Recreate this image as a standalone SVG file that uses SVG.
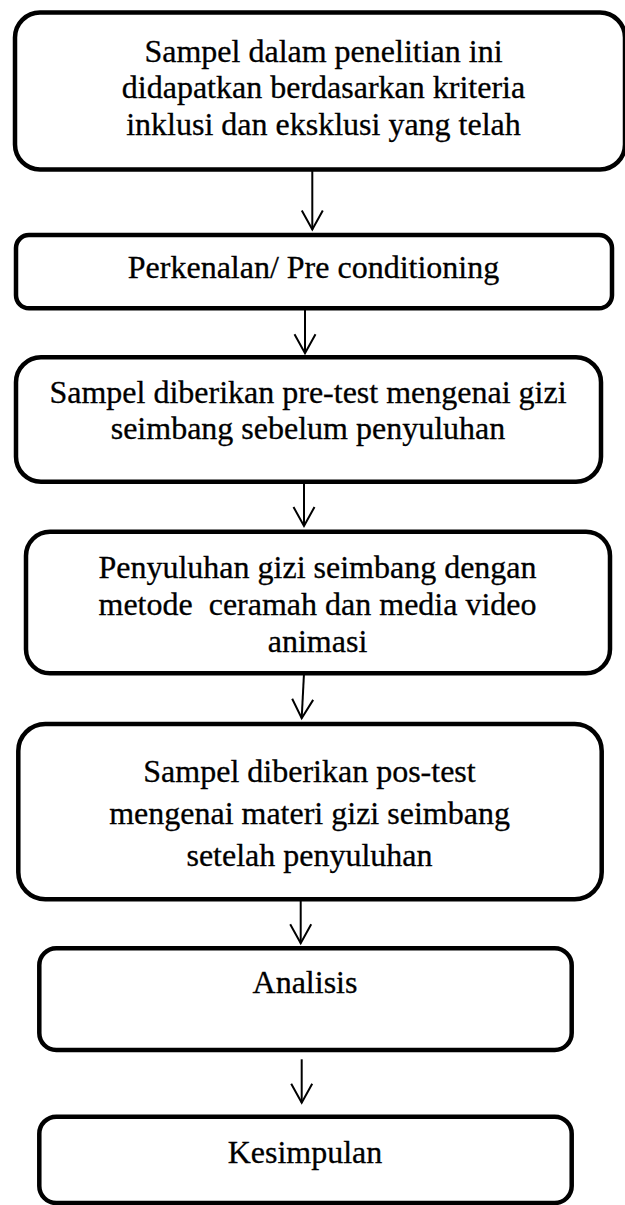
<svg xmlns="http://www.w3.org/2000/svg" width="625" height="1205" viewBox="0 0 625 1205">
<style>
.box{fill:#fff;stroke:#000;stroke-width:4.5}
.lbl{font-family:"Liberation Serif","Times New Roman",serif;font-size:32px;fill:#000;stroke:#000;stroke-width:0.3;text-anchor:middle}
.conn{stroke:#000;stroke-width:2;fill:none}
</style>
<defs>
<marker id="arr" markerUnits="userSpaceOnUse" markerWidth="40" markerHeight="40" refX="0" refY="0" orient="auto" overflow="visible">
<path d="M-19,-10.5 L0,0 L-19,10.5" fill="none" stroke="#000" stroke-width="2"/>
</marker>
</defs>
<rect width="625" height="1205" fill="#fff"/>
<g id="n1">
<rect class="box" x="15" y="12.5" width="610" height="157" rx="25"/>
<text class="lbl" x="323.5" y="61.7">Sampel dalam penelitian ini</text>
<text class="lbl" x="323.5" y="98.3">didapatkan berdasarkan kriteria</text>
<text class="lbl" x="323.5" y="135">inklusi dan eksklusi yang telah</text>
</g>
<g id="n2">
<rect class="box" x="16" y="235" width="596" height="73.3" rx="13"/>
<text class="lbl" x="313.5" y="278.3">Perkenalan/ Pre conditioning</text>
</g>
<g id="n3">
<rect class="box" x="16" y="357.3" width="585" height="124.4" rx="25"/>
<text class="lbl" x="308" y="403.3">Sampel diberikan pre-test mengenai gizi</text>
<text class="lbl" x="308" y="439.3">seimbang sebelum penyuluhan</text>
</g>
<g id="n4">
<rect class="box" x="26" y="531.7" width="584" height="141.6" rx="24"/>
<text class="lbl" x="317.5" y="578.3">Penyuluhan gizi seimbang dengan</text>
<text class="lbl" x="317.5" y="615" xml:space="preserve">metode  ceramah dan media video</text>
<text class="lbl" x="317.5" y="651.7">animasi</text>
</g>
<g id="n5">
<rect class="box" x="18.3" y="724" width="583.4" height="175.3" rx="27"/>
<text class="lbl" x="309.5" y="781.7">Sampel diberikan pos-test</text>
<text class="lbl" x="309.5" y="824">mengenai materi gizi seimbang</text>
<text class="lbl" x="309.5" y="865.7">setelah penyuluhan</text>
</g>
<g id="n6">
<rect class="box" x="39.3" y="948.3" width="532.4" height="101.7" rx="17"/>
<text class="lbl" x="305" y="993.3">Analisis</text>
</g>
<g id="n7">
<rect class="box" x="39.3" y="1116.7" width="532.4" height="86.3" rx="17"/>
<text class="lbl" x="305" y="1163.3">Kesimpulan</text>
</g>
<g id="connectors">
<line class="conn" x1="312.3" y1="169.5" x2="312.3" y2="229.5" marker-end="url(#arr)"/>
<line class="conn" x1="305" y1="308.3" x2="305" y2="353.3" marker-end="url(#arr)"/>
<line class="conn" x1="304" y1="481.7" x2="304" y2="526" marker-end="url(#arr)"/>
<line class="conn" x1="304" y1="673.3" x2="301.7" y2="718.3" marker-end="url(#arr)"/>
<line class="conn" x1="300.7" y1="899.3" x2="300.7" y2="943.3" marker-end="url(#arr)"/>
<line class="conn" x1="301.7" y1="1059.3" x2="301.7" y2="1102.7" marker-end="url(#arr)"/>
</g>
</svg>
